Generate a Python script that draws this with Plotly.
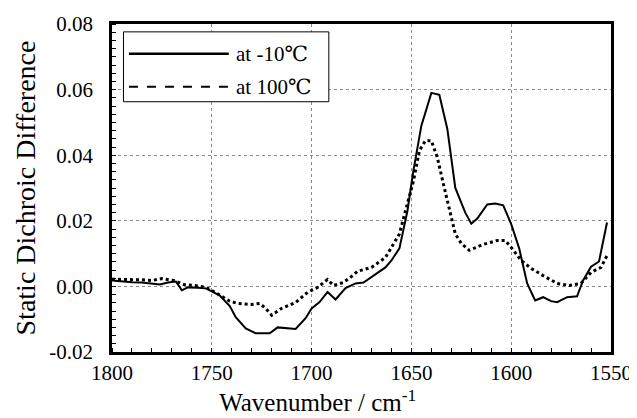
import plotly.graph_objects as go

# Series: at -10 C (solid)
wn_cold = [1800, 1795, 1790, 1785, 1780, 1776, 1772, 1768, 1765, 1762, 1757, 1753, 1750,
           1746, 1741, 1738, 1733, 1728, 1721, 1717, 1708, 1703, 1700, 1696, 1692, 1688,
           1683, 1678, 1674, 1669, 1663, 1660, 1656, 1652, 1649, 1645, 1640, 1636, 1632,
           1628, 1623, 1620, 1617, 1612, 1608, 1604, 1600, 1596, 1592, 1588, 1584, 1580,
           1577, 1572, 1567, 1564, 1560, 1556, 1552]
val_cold = [0.0018, 0.0015, 0.0013, 0.0012, 0.0008, 0.0006, 0.0012, 0.0015, -0.0012, -0.0003,
            -0.0004, -0.0006, -0.0015, -0.0028, -0.0060, -0.0094, -0.0128, -0.0143, -0.0143,
            -0.0125, -0.0130, -0.0097, -0.0067, -0.0048, -0.0017, -0.0040, -0.0005, 0.0009,
            0.0012, 0.0033, 0.0058, 0.0079, 0.0116, 0.0230, 0.0353, 0.0490, 0.0590, 0.0584,
            0.0480, 0.0300, 0.0225, 0.0191, 0.0207, 0.0250, 0.0253, 0.0247, 0.0190, 0.0116,
            0.0009, -0.0043, -0.0033, -0.0045, -0.0048, -0.0033, -0.0030, 0.0018, 0.0060,
            0.0076, 0.0195]

# Series: at 100 C (dotted)
wn_hot = [1800, 1795, 1790, 1785, 1780, 1775, 1769, 1764, 1759, 1753, 1750, 1746, 1741,
          1737, 1730, 1726, 1723, 1720, 1715, 1708, 1702, 1697, 1692, 1689, 1684, 1679,
          1677, 1670, 1663, 1660, 1656, 1652, 1649, 1646, 1643, 1640, 1637, 1634, 1630,
          1628, 1625, 1621, 1614, 1607, 1603, 1600, 1595, 1590, 1584, 1577, 1571, 1565,
          1560, 1555, 1552]
val_hot = [0.0022, 0.0022, 0.0020, 0.0020, 0.0018, 0.0024, 0.0018, 0.0006, 0.0003, -0.0003,
           -0.0012, -0.0027, -0.0045, -0.0052, -0.0055, -0.0052, -0.0067, -0.0088, -0.0067,
           -0.0049, -0.0018, -0.0003, 0.0021, 0.0003, 0.0012, 0.0035, 0.0046, 0.0058, 0.0088,
           0.0119, 0.0160, 0.0253, 0.0320, 0.0414, 0.0444, 0.0444, 0.0393, 0.0313, 0.0210,
           0.0160, 0.0131, 0.0110, 0.0128, 0.0140, 0.0140, 0.0119, 0.0079, 0.0055, 0.0033,
           0.0009, 0.0003, 0.0009, 0.0043, 0.0058, 0.0094]

series_names = ["at -10\u2103", "at 100\u2103"]
x_ticks = [1800, 1750, 1700, 1650, 1600, 1550]
y_ticks = [-0.02, 0.00, 0.02, 0.04, 0.06, 0.08]

FONT = '"Liberation Serif", "DejaVu Serif", serif'

fig = go.Figure()
fig.add_trace(go.Scatter(x=wn_cold, y=val_cold, mode="lines", name=series_names[0],
                         line=dict(color="black", width=2), showlegend=False))
fig.add_trace(go.Scatter(x=wn_hot, y=val_hot, mode="lines", name=series_names[1],
                         line=dict(color="black", width=3, dash="dot"), showlegend=False))

# manual legend (box, samples, labels) in paper coordinates
fig.add_shape(type="rect", xref="paper", yref="paper", x0=0.023, x1=0.4345, y0=0.763, y1=0.976,
              line=dict(color="black", width=1), fillcolor="white", layer="above")
fig.add_shape(type="line", xref="paper", yref="paper", x0=0.034, x1=0.234, y0=0.909, y1=0.909,
              line=dict(color="black", width=2.5))
fig.add_shape(type="line", xref="paper", yref="paper", x0=0.034, x1=0.234, y0=0.8085, y1=0.8085,
              line=dict(color="black", width=2, dash="dash"))
for yy, txt in zip([0.909, 0.8085], series_names):
    fig.add_annotation(xref="paper", yref="paper", x=0.245, y=yy, text=txt, showarrow=False,
                       xanchor="left", yanchor="middle", font=dict(family=FONT, size=21, color="black"))

fig.update_layout(
    width=637, height=418,
    margin=dict(l=104, r=34, t=16, b=74),
    paper_bgcolor="white", plot_bgcolor="white",
    font=dict(family=FONT, color="black", size=20),
    xaxis=dict(range=[1800, 1550], tickvals=x_ticks, ticktext=[str(v) for v in x_ticks],
               showline=True, linecolor="black", linewidth=2.5, mirror=True, automargin=False,
               showgrid=True, gridcolor="#888888", griddash="dot", gridwidth=1,
               ticks="", zeroline=False, tickfont=dict(family=FONT, size=21),
               minor=dict(dtick=10, ticks="inside", ticklen=4, tickcolor="black", showgrid=False),
               title=dict(text="Wavenumber / cm<sup>-1</sup>" + "&nbsp;" * 14,
                          font=dict(family=FONT, size=25), standoff=8)),
    yaxis=dict(range=[-0.02, 0.08], tickvals=y_ticks, ticktext=[f"{v:.2f}" for v in y_ticks],
               showline=True, linecolor="black", linewidth=2.5, mirror=True, automargin=False,
               showgrid=True, gridcolor="#888888", griddash="dot", gridwidth=1,
               ticks="", zeroline=False, tickfont=dict(family=FONT, size=21), ticklabelstandoff=12,
               minor=dict(dtick=0.0025, ticks="inside", ticklen=4, tickcolor="black", showgrid=False),
               title=dict(text="Static Dichroic Difference", font=dict(family=FONT, size=28), standoff=6)),
)

fig.write_html("out.html")
